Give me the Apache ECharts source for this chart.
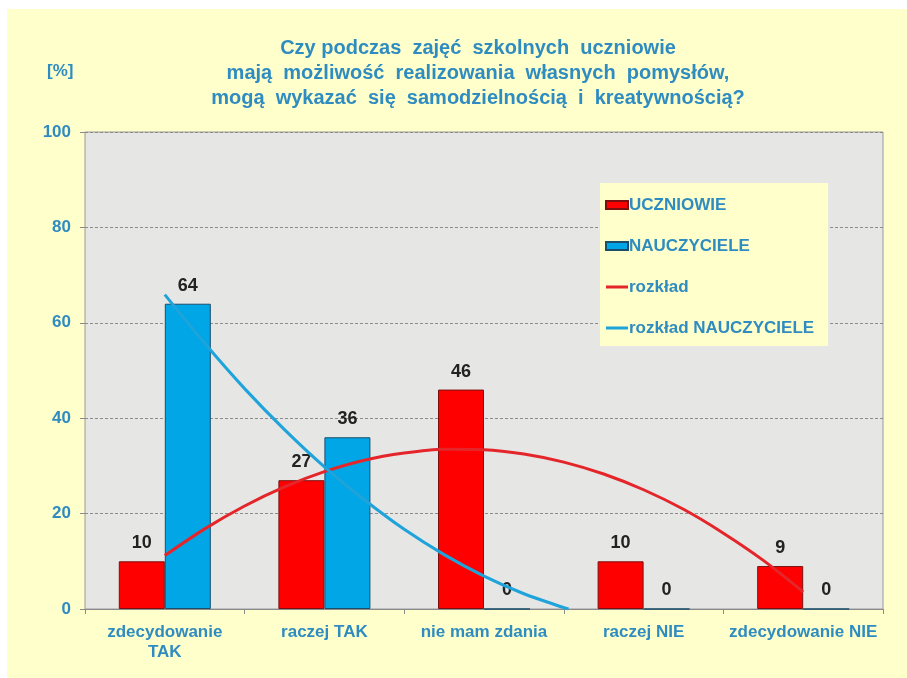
<!DOCTYPE html>
<html>
<head>
<meta charset="utf-8">
<script src="https://cdn.jsdelivr.net/npm/echarts@6/dist/echarts.min.js"></script>
<style>
  html, body { margin: 0; padding: 0; background: #ffffff; }
  #chart { width: 907px; height: 678px; }
</style>
</head>
<body>
<div id="chart"></div>
<script>
// categories and bar values
var categories = ['zdecydowanie\nTAK', 'raczej TAK', 'nie mam zdania', 'raczej NIE', 'zdecydowanie NIE'];
var uczniowie = [10, 27, 46, 10, 9];
var nauczyciele = [64, 36, 0, 0, 0];

// trend curves: [category position (1..5), value]
var rozklad = [
    [1, 11.2], [1.25, 16.8], [1.5, 21.6], [1.75, 25.6], [2, 28.8], [2.25, 31.2], [2.5, 32.7], [2.75, 33.5],
    [3, 33.4], [3.25, 32.5], [3.5, 30.8], [3.75, 28.3], [4, 25], [4.25, 20.9], [4.5, 15.9], [4.75, 10.2], [5, 3.6]
];
var rozkladNauczyciele = [
    [1, 65.9], [1.25, 55.7], [1.5, 46.2], [1.75, 37.6], [2, 29.8], [2.25, 22.9], [2.5, 16.7], [2.75, 11.4],
    [3, 6.9], [3.25, 3.2], [3.5, 0.3], [3.53, 0]
];

var yTicks = [0, 20, 40, 60, 80, 100];

var blueText = '#2F8CC0';
var fontFamily = '"Liberation Sans", Arial, sans-serif';
// thin line icon for the trend entries of the legend
var lineIcon = 'path://M0,2.5 H22 V5.5 H0 Z M0,0 H0.01 V8 H0 Z';

var chart = echarts.init(document.getElementById('chart'));

chart.setOption({
    animation: false,
    backgroundColor: '#ffffff',
    textStyle: { fontFamily: fontFamily },
    graphic: [
        {
            type: 'rect', z: -10, silent: true,
            shape: { x: 7, y: 9, width: 900, height: 669 },
            style: { fill: '#FFFFCC' }
        },
        {
            type: 'text', left: 47, top: 63,
            style: { text: '[%]', fill: blueText, font: 'bold 17px ' + fontFamily }
        }
    ],
    title: {
        text: 'Czy podczas  zajęć  szkolnych  uczniowie\nmają  możliwość  realizowania  własnych  pomysłów,\nmogą  wykazać  się  samodzielnością  i  kreatywnością?',
        left: 473,
        top: 31,
        textAlign: 'center',
        textStyle: {
            color: blueText, fontSize: 20, fontWeight: 'bold', lineHeight: 25, fontFamily: fontFamily
        }
    },
    legend: {
        orient: 'vertical',
        left: 600,
        top: 183,
        padding: [12, 14, 8, 5],
        backgroundColor: '#FFFFCC',
        itemGap: 21,
        itemWidth: 22,
        itemHeight: 8,
        textStyle: { color: blueText, fontSize: 17, fontWeight: 'bold', lineHeight: 20, padding: [0, 0, 0, -4] },
        data: [
            { name: 'UCZNIOWIE', icon: 'rect' },
            { name: 'NAUCZYCIELE', icon: 'rect' },
            { name: 'rozkład', icon: lineIcon },
            { name: 'rozkład NAUCZYCIELE', icon: lineIcon }
        ]
    },
    grid: {
        left: 85, right: 24, top: 132, bottom: 69,
        show: true,
        backgroundColor: '#E6E6E5',
        borderColor: '#9A9A9A',
        borderWidth: 1
    },
    xAxis: [
        {
            type: 'category',
            data: categories,
            axisLine: { lineStyle: { color: '#8A8A8A' } },
            axisTick: { show: true, length: 5, lineStyle: { color: '#8A8A8A' } },
            axisLabel: {
                color: blueText, fontSize: 17, fontWeight: 'bold', margin: 13, lineHeight: 20, interval: 0
            }
        },
        {
            type: 'value', min: 0.5, max: 5.5, show: false
        }
    ],
    yAxis: {
        type: 'value',
        min: yTicks[0],
        max: yTicks[yTicks.length - 1],
        interval: 20,
        axisLine: { show: false },
        axisTick: { show: true, length: 5, lineStyle: { color: '#8A8A8A' } },
        axisLabel: { color: blueText, fontSize: 17, fontWeight: 'bold', margin: 14 },
        splitLine: { lineStyle: { color: '#8C8C8C', type: [3, 2], width: 1 } }
    },
    series: [
        {
            name: 'UCZNIOWIE',
            type: 'bar',
            data: uczniowie,
            barWidth: 46,
            barGap: '0%',
            itemStyle: { color: '#FF0000', borderColor: '#7A1010', borderWidth: 1 },
            label: {
                show: true, position: 'top', distance: 9,
                color: '#222222', fontSize: 18, fontWeight: 'bold'
            }
        },
        {
            name: 'NAUCZYCIELE',
            type: 'bar',
            data: nauczyciele,
            barWidth: 46,
            itemStyle: { color: '#00A6E6', borderColor: '#1B4E6B', borderWidth: 1 },
            label: {
                show: true, position: 'top', distance: 9,
                color: '#222222', fontSize: 18, fontWeight: 'bold'
            }
        },
        {
            name: 'rozkład',
            type: 'line',
            xAxisIndex: 1,
            data: rozklad,
            smooth: 0.3,
            symbol: 'none',
            z: 5,
            lineStyle: { color: '#E4262A', width: 3 },
            itemStyle: { color: '#E4262A' }
        },
        {
            name: 'rozkład NAUCZYCIELE',
            type: 'line',
            xAxisIndex: 1,
            data: rozkladNauczyciele,
            smooth: 0.3,
            symbol: 'none',
            z: 5,
            lineStyle: { color: '#1EA3DA', width: 3 },
            itemStyle: { color: '#1EA3DA' }
        }
    ]
});
</script>
</body>
</html>
